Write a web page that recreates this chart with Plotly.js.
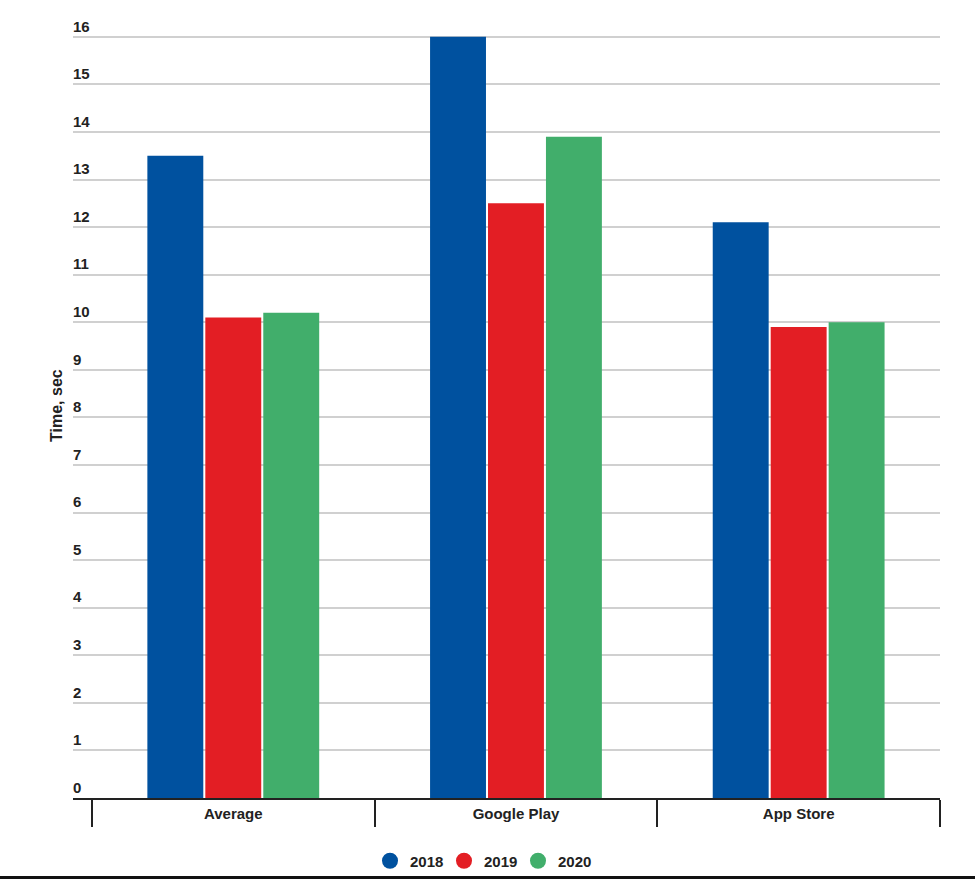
<!DOCTYPE html>
<html>
<head>
<meta charset="utf-8">
<script src="https://cdn.plot.ly/plotly-3.0.1.min.js"></script>
<style>html,body{margin:0;padding:0;background:#fff;}</style>
</head>
<body>
<div id="chart" style="width:975px;height:879px;"></div>
<script>
const categories = ["Average", "Google Play", "App Store"];
const years = ["2018", "2019", "2020"];
const values2018 = [13.5, 16.0, 12.1];
const values2019 = [10.1, 12.5, 9.9];
const values2020 = [10.2, 13.9, 10.0];
const yTicks = [0,1,2,3,4,5,6,7,8,9,10,11,12,13,14,15,16];
const colors = ["#00519f", "#e31e24", "#41ae6b"];
const series = [values2018, values2019, values2020];

const traces = [];
series.forEach((vals, i) => {
  traces.push({
    type: "bar",
    name: years[i],
    x: categories,
    y: vals,
    marker: {color: colors[i]},
    showlegend: false,
    legendgroup: years[i],
    hoverinfo: "x+y+name"
  });
});
series.forEach((vals, i) => {
  traces.push({
    type: "scatter",
    mode: "markers",
    name: years[i],
    x: [null],
    y: [null],
    marker: {color: colors[i], size: 19, symbol: "circle"},
    legendgroup: years[i],
    showlegend: true
  });
});

const layout = {
  width: 975,
  height: 879,
  margin: {l: 73, r: 35, t: 13.2, b: 81},
  paper_bgcolor: "#ffffff",
  plot_bgcolor: "#ffffff",
  barmode: "group",
  bargap: 0.385,
  bargroupgap: 0.035,
  font: {family: "Arial, Liberation Sans, sans-serif", color: "#222222", size: 15, weight: "bold"},
  xaxis: {
    type: "category",
    range: [-0.567, 2.5],
    automargin: false,
    tickson: "boundaries",
    ticks: "outside",
    ticklen: 27,
    tickwidth: 1.5,
    tickcolor: "#222222",
    showline: true,
    linecolor: "#222222",
    linewidth: 2,
    showgrid: false,
    ticklabelstandoff: 1,
    tickfont: {size: 15, color: "#222222", weight: "bold"}
  },
  yaxis: {
    range: [0, 16.5],
    automargin: false,
    tickvals: yTicks,
    ticktext: yTicks.map(String),
    ticks: "",
    ticklabelposition: "inside top",
    ticklabelstandoff: -3,
    showgrid: true,
    gridcolor: "#d0d0d0",
    gridwidth: 1.5,
    zeroline: false,
    showline: false,
    tickfont: {size: 15, color: "#222222", weight: "bold"}
  },
  legend: {
    orientation: "h",
    xref: "container",
    x: 370 / 975,
    xanchor: "left",
    yref: "container",
    y: 0.0205,
    yanchor: "middle",
    entrywidth: 29,
    entrywidthmode: "pixels",
    font: {size: 15, color: "#222222", weight: "bold"},
    bgcolor: "rgba(0,0,0,0)"
  },
  annotations: [{
    text: "Time, sec",
    xref: "paper", yref: "paper",
    x: -0.0184, y: (798 - 406) / (798 - 13.2),
    xanchor: "center", yanchor: "middle",
    textangle: -90,
    showarrow: false,
    font: {size: 16, color: "#222222", weight: "bold"}
  }],
  shapes: [{
    type: "rect",
    xref: "paper", yref: "paper",
    x0: -0.1, x1: 1.1,
    y0: -(81 / 784.8), y1: -(78 / 784.8),
    fillcolor: "#111111",
    line: {width: 0}
  }]
};

Plotly.newPlot("chart", traces, layout, {displayModeBar: false, responsive: false});
</script>
</body>
</html>
